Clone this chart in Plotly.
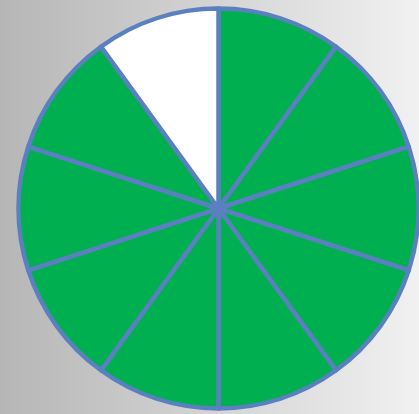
import plotly.graph_objects as go

# Ten equal parts of a whole, nine shaded and one left blank
parts = [f"Part {i}" for i in range(1, 11)]
part_values = [1, 1, 1, 1, 1, 1, 1, 1, 1, 1]
shaded = [True] * 9 + [False]

GREEN = "#00b050"
BLANK = "#ffffff"
EDGE = "#5a80c0"

# Horizontal grey backdrop gradient
grad_x = [0, 1]
grad_z = [[0, 1], [0, 1]]

W, H = 419, 414
cx, cy, r = 218.5, 208.5, 200

fig = go.Figure()

fig.add_trace(go.Heatmap(
    x=grad_x, y=[0, 1], z=grad_z,
    colorscale=[[0, "#b6b6b6"], [1, "#f1f1f1"]],
    zsmooth="best", showscale=False, hoverinfo="skip",
))

fig.add_trace(go.Pie(
    labels=parts,
    values=part_values,
    sort=False,
    direction="clockwise",
    rotation=0,
    textinfo="none",
    hoverinfo="skip",
    showlegend=False,
    marker=dict(
        colors=[GREEN if s else BLANK for s in shaded],
        line=dict(color=EDGE, width=4.5),
    ),
    domain=dict(
        x=[(cx - r) / W, (cx + r) / W],
        y=[(H - cy - r) / H, (H - cy + r) / H],
    ),
))

fig.update_layout(
    width=W, height=H,
    margin=dict(l=0, r=0, t=0, b=0),
    paper_bgcolor="#d8d8d8",
    plot_bgcolor="#d8d8d8",
    xaxis=dict(visible=False, range=[0, 1], domain=[0, 1]),
    yaxis=dict(visible=False, range=[0, 1], domain=[0, 1]),
)

fig.write_html("out.html")
